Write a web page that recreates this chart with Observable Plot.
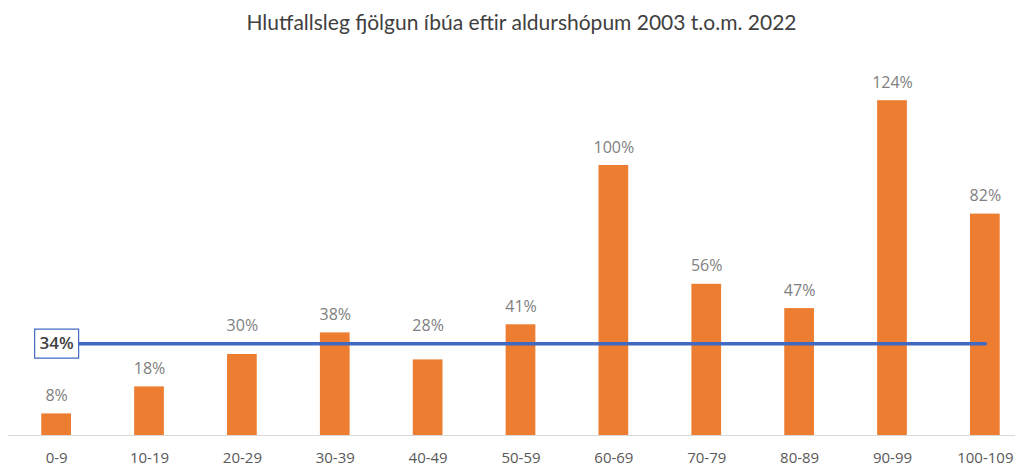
<!DOCTYPE html>
<html>
<head>
<meta charset="utf-8">
<script src="https://cdn.jsdelivr.net/npm/d3@7"></script>
<script src="https://cdn.jsdelivr.net/npm/@observablehq/plot@0.6"></script>
<style>
  body { margin: 0; background: #fff; }
  #title { height: 44px; line-height: 44px; text-align: center; font-family: Lato, sans-serif; font-size: 21px; color: #404040; padding-left: 24px; }
</style>
</head>
<body>
<div id="title">Hlutfallsleg fjölgun íbúa eftir aldurshópum 2003 t.o.m. 2022</div>
<div id="chart"></div>
<script>
const ageGroups = ["0-9","10-19","20-29","30-39","40-49","50-59","60-69","70-79","80-89","90-99","100-109"];
const growth = [8, 18, 30, 38, 28, 41, 100, 56, 47, 124, 82];
const average = 34;

const data = ageGroups.map((g, i) => ({group: g, value: growth[i]}));
// labels that would collide with the average line are lifted above it
const labelY = d => (d.value < average && d.value + 8 > average) ? average : d.value;

const chart = Plot.plot({
  width: 1019,
  height: 422,
  marginLeft: 32,
  marginRight: 10,
  marginTop: 13,
  marginBottom: 31,
  style: {fontFamily: "'Open Sans', sans-serif", background: "#fff"},
  x: {domain: ageGroups, paddingInner: 0.68, paddingOuter: 0.1, round: false, label: null},
  y: {domain: [0, 140], axis: null},
  marks: [
    Plot.ruleY([0], {stroke: "#d9d9d9", strokeWidth: 1.2, insetLeft: -24, insetRight: -6}),
    Plot.barY(data, {x: "group", y: "value", fill: "#ED7D31"}),
    Plot.text(data, {x: "group", y: labelY, text: d => d.value + "%", dy: -18, fontSize: 16, fill: "#808080"}),
    Plot.lineY(ageGroups, {x: d => d, y: () => average, stroke: "#4169C2", strokeWidth: 3.5}),
    Plot.dot([ageGroups[0]], {x: d => d, y: () => average, r: 10, fill: "#fff", stroke: "#4169C2", strokeWidth: 1.2,
      symbol: {draw(ctx) { ctx.rect(-22, -14.5, 44, 29); }}}),
    Plot.text([ageGroups[0]], {x: d => d, y: () => average, text: () => average + "%", fontSize: 17, fontWeight: 600, fill: "#404040"}),
    Plot.axisX({tickSize: 0, tickPadding: 17, fontSize: 15, color: "#595959", label: null})
  ]
});
document.getElementById("chart").append(chart);
</script>
</body>
</html>
